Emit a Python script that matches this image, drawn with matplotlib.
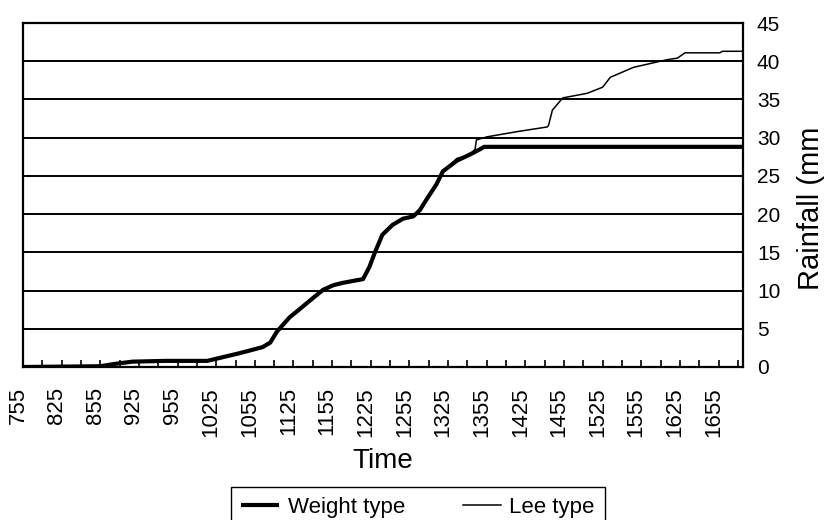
import numpy as np
import matplotlib
matplotlib.use('Agg')
import matplotlib.pyplot as plt
from matplotlib.transforms import ScaledTranslation

plt.rcParams['font.family'] = ['Liberation Sans', 'DejaVu Sans']

# time axis: minutes after 07:55
tick_labels = ['755', '825', '855', '925', '955', '1025', '1055', '1125', '1155', '1225',
               '1255', '1325', '1355', '1425', '1455', '1525', '1555', '1625', '1655']

# Weight type rain gauge (mm)
weight_t = [0, 60, 71, 85, 110, 143, 153, 168, 186, 192, 197, 207, 215, 225, 233, 241, 248,
            264, 269, 273, 279, 287, 295, 303, 308, 314, 321, 326, 337, 347, 355, 358, 559]
weight_mm = [0, 0.1, 0.4, 0.7, 0.8, 0.8, 1.2, 1.8, 2.6, 3.2, 4.6, 6.5, 7.6, 9.0, 10.1, 10.7, 11.0,
             11.5, 13.1, 14.9, 17.3, 18.6, 19.4, 19.7, 20.5, 22.1, 23.9, 25.6, 27.0, 27.8, 28.5, 28.8, 28.8]

# Lee type rain gauge (mm)
lee_t = [0, 60, 71, 85, 110, 143, 153, 168, 186, 192, 197, 207, 215, 225, 233, 241, 248,
         264, 269, 273, 279, 287, 295, 303, 308, 314, 321, 326, 337, 347, 351, 352, 360, 384,
         407, 408, 411, 419, 438, 450, 456, 474, 500, 508, 514, 541, 543, 559]
lee_mm = [0, 0.1, 0.4, 0.7, 0.8, 0.8, 1.2, 1.8, 2.6, 3.2, 4.6, 6.5, 7.6, 9.0, 10.1, 10.7, 11.0,
          11.5, 13.1, 14.9, 17.3, 18.6, 19.4, 19.7, 20.5, 22.1, 23.9, 25.6, 27.3, 27.7, 28.5, 29.7, 30.1, 30.8,
          31.4, 31.6, 33.6, 35.2, 35.8, 36.6, 37.9, 39.2, 40.2, 40.4, 41.1, 41.1, 41.3, 41.3]

fig = plt.figure(figsize=(8.27, 5.2), dpi=100)
ax = fig.add_axes([23/827, 153/520, 720/827, 344/520])

ax.plot(weight_t, weight_mm, color='black', lw=3.0, label='Weight type', zorder=3,
        solid_joinstyle='round', solid_capstyle='butt')
ax.plot(lee_t, lee_mm, color='black', lw=1.1, label='Lee type', zorder=4)

ax.set_xlim(0, 559)
ax.set_ylim(0, 45)

ax.set_xticks(np.arange(0, 541, 30))
ax.set_xticklabels(tick_labels, rotation=90, fontsize=16, va='top', ha='center')
ax.set_xticks(np.arange(0, 556, 15), minor=True)
ax.tick_params(axis='x', which='both', direction='in', length=5, width=1.2, pad=14.4, top=False)
offset = ScaledTranslation(-5/100, 0, fig.dpi_scale_trans)
for lbl in ax.get_xticklabels():
    lbl.set_transform(lbl.get_transform() + offset)

ax.yaxis.tick_right()
ax.set_yticks(np.arange(0, 46, 5))
ax.tick_params(axis='y', length=0, pad=10, labelsize=15)
ax.grid(axis='y', color='black', lw=1.4)
ax.set_axisbelow(True)
for s in ax.spines.values():
    s.set_linewidth(1.6)
    s.set_color('black')

ax.set_xlabel('Time', fontsize=20)
ax.xaxis.set_label_coords(0.5, -0.235)

ax.yaxis.set_label_position('right')
ax.set_ylabel('Rainfall (mm', fontsize=21, rotation=90)
ax.yaxis.label.set_rotation_mode('anchor')
ax.yaxis.label.set_ha('left')
ax.yaxis.label.set_va('center')
ax.yaxis.set_label_coords((811 - 23) / 720, (367 - 290) / 344)

leg = fig.legend(loc='upper center', bbox_to_anchor=(418/827, 1 - 487/520), ncol=2,
                 fontsize=16, frameon=True, fancybox=False, framealpha=1, edgecolor='black',
                 borderaxespad=0, handlelength=1.7, handletextpad=0.4, columnspacing=2.6,
                 borderpad=0.45)
leg.get_frame().set_linewidth(1.0)

fig.savefig('out.png', dpi=100)
